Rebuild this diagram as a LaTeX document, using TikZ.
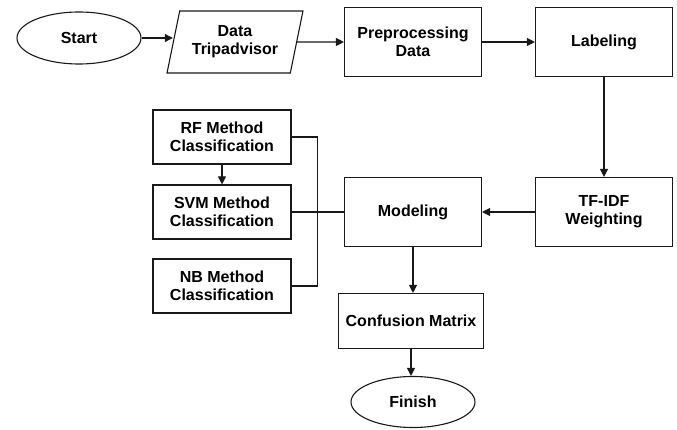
\documentclass[tikz,border=0pt]{standalone}
\usepackage{fontspec}
\setmainfont{Liberation Sans}
\usetikzlibrary{positioning, arrows.meta, shapes.geometric}
\tikzset{
    terminal/.style={ellipse, draw=black!90, line width=1.1pt, minimum width=124pt, minimum height=52pt, inner sep=0pt, font=\bfseries\fontsize{16}{18}\selectfont, align=center},
    io/.style={trapezium, trapezium left angle=73, trapezium right angle=107, trapezium stretches=true, draw=black!90, line width=1.1pt, minimum width=136pt, minimum height=62pt, inner sep=0pt, font=\bfseries\fontsize{16}{18}\selectfont, align=center},
    process/.style={rectangle, draw=black!90, line width=1.1pt, minimum width=137pt, minimum height=69pt, inner sep=2pt, font=\bfseries\fontsize{16}{18}\selectfont, align=center},
    method/.style={process, minimum width=138pt, minimum height=54pt},
    line/.style={-{Triangle[length=8pt, width=8pt]}, line width=1.1pt, black!90},
    link/.style={line width=1.1pt, black!90}
}

\begin{document}
\begin{tikzpicture}[x=1pt, y=-1pt]
        	\useasboundingbox (0,0) rectangle (677,430);
        	% main flow
        	\node (start) [terminal] at (79,38) {Start};
        	\node (data) [io] at (235,42) {Data\\Tripadvisor};
        	\node (prep) [process] at (413,42) {Preprocessing\\Data};
        	\node (label) [process] at (604,42) {Labeling};
        	\node (tfidf) [process] at (604,212) {TF-IDF\\Weighting};
        	\node (model) [process] at (413,212) {Modeling};
        	\node (conf) [process, minimum width=145pt, minimum height=55pt] at (411,321) {Confusion Matrix};
        	\node (finish) [terminal, minimum height=51pt] at (413,402) {Finish};
        	% methods
        	\node (rf) [method] at (222,137) {RF Method\\Classification};
        	\node (svm) [method] at (222,212) {SVM Method\\Classification};
        	\node (nb) [method] at (222,286) {NB Method\\Classification};
        	
        	\draw[line] (start.east) -- (start.east -| data.west);
        	\draw[line] (data) -- (prep);
        	\draw[line] (prep) -- (label);
        	\draw[line] (label) -- (tfidf);
        	\draw[line] (tfidf) -- (model);
        	\draw[line] (model.south) -- (model.south |- conf.north);
        	\draw[line] (conf.south) -- (conf.south |- finish.north);
        	\draw[line] (rf) -- (svm);
        	\draw[link] (rf.east) -- ++(26,0) coordinate (bus) |- (nb.east);
        	\draw[link] (svm) -- (model);
        \end{tikzpicture}
\end{document}
